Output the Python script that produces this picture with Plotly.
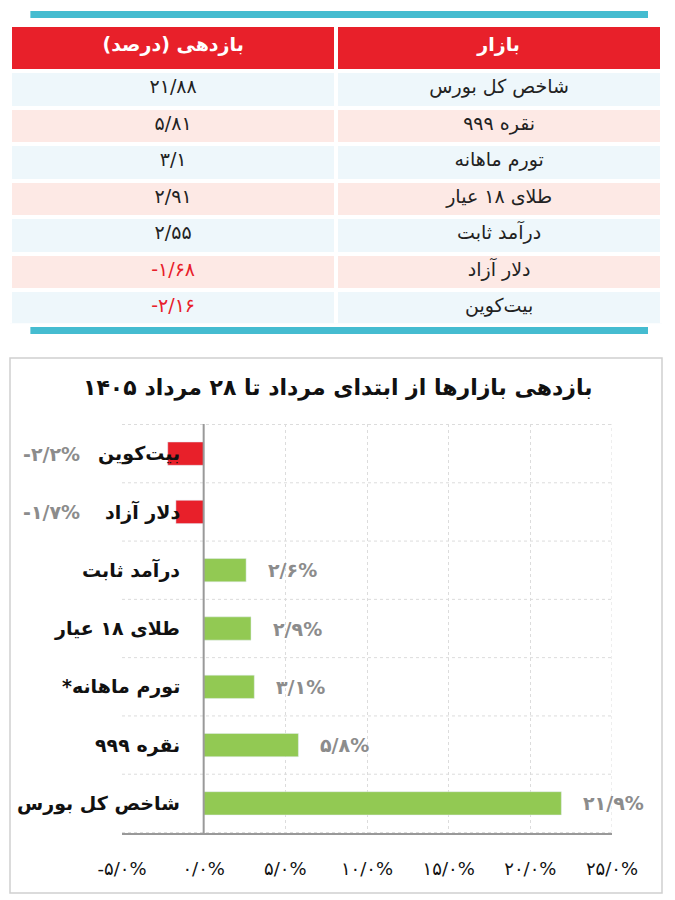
import plotly.graph_objects as go

markets = ["شاخص کل بورس", "نقره ۹۹۹", "تورم ماهانه", "طلای ۱۸ عیار", "درآمد ثابت", "دلار آزاد", "بیت‌کوین"]
table_values = ["۲۱/۸۸", "۵/۸۱", "۳/۱", "۲/۹۱", "۲/۵۵", "-۱/۶۸", "-۲/۱۶"]
chart_cats = ["بیت‌کوین", "دلار آزاد", "درآمد ثابت", "طلای ۱۸ عیار", "\u200fتورم ماهانه*\u200f", "نقره ۹۹۹", "شاخص کل بورس"]
chart_vals = [-2.2, -1.7, 2.6, 2.9, 3.1, 5.8, 21.9]
chart_labels = ["-۲/۲%", "-۱/۷%", "۲/۶%", "۲/۹%", "۳/۱%", "۵/۸%", "۲۱/۹%"]
tick_vals = [-5, 0, 5, 10, 15, 20, 25]
tick_text = ["-۵/۰%", "۰/۰%", "۵/۰%", "۱۰/۰%", "۱۵/۰%", "۲۰/۰%", "۲۵/۰%"]
title = "بازدهی بازارها از ابتدای مرداد تا ۲۸ مرداد ۱۴۰۵"

FONT = "DejaVu Sans"
RED = "#e8202a"
GREEN = "#92c953"
row_fill = ["#eef7fb" if i % 2 == 0 else "#fde9e5" for i in range(len(markets))]
val_colors = [RED if v.startswith("-") else "#222" for v in table_values]

fig = go.Figure()
fig.add_trace(go.Table(
    domain=dict(x=[0.015, 0.982], y=[0.64, 0.972]),
    columnwidth=[1, 1],
    header=dict(values=["<b>بازدهی (درصد)</b>", "<b>بازار</b>"], fill_color=RED,
                line=dict(color="white", width=4), height=46,
                font=dict(family=FONT, size=19, color="white"), align="center"),
    cells=dict(values=[table_values, markets], fill_color=[row_fill, row_fill],
               line=dict(color="white", width=4), height=36.5,
               font=dict(family=FONT, size=19, color=[val_colors, ["#222"] * 7]), align="center"),
))

fig.add_trace(go.Bar(
    x=chart_vals, y=chart_cats, orientation="h", width=0.4,
    marker_color=[RED if v < 0 else GREEN for v in chart_vals],
    hoverinfo="skip", showlegend=False,
))

for c, v, lab in zip(chart_cats, chart_vals, chart_labels):
    fig.add_annotation(x=0, y=c, text="<b>" + c + "</b>", showarrow=False, xanchor="right",
                       xshift=-22, font=dict(family=FONT, size=19, color="#111"))
    if v >= 0:
        fig.add_annotation(x=v, y=c, text="<b>" + lab + "</b>", showarrow=False, xanchor="left",
                           xshift=20, font=dict(family=FONT, size=19, color="#8c8c8c"))
    else:
        fig.add_annotation(x=-5, y=c, text="<b>" + lab + "</b>", showarrow=False, xanchor="right",
                           xshift=-40, font=dict(family=FONT, size=19, color="#8c8c8c"))

fig.add_annotation(x=0.5, y=1 - 388 / 900, xref="paper", yref="paper", text="<b>" + title + "</b>",
                   showarrow=False, font=dict(family=FONT, size=22, color="#111"))

shapes = [
    dict(type="rect", xref="paper", yref="paper", x0=0.045, x1=0.96, y0=1 - 18 / 900, y1=1 - 11 / 900,
         fillcolor="#45bcd0", line=dict(width=0)),
    dict(type="rect", xref="paper", yref="paper", x0=0.045, x1=0.96, y0=1 - 334 / 900, y1=1 - 327 / 900,
         fillcolor="#45bcd0", line=dict(width=0)),
    dict(type="rect", xref="paper", yref="paper", x0=10 / 675, x1=662 / 675, y0=1 - 893 / 900, y1=1 - 358 / 900,
         line=dict(color="#d0d0d0", width=1.5)),
    dict(type="line", xref="x", yref="paper", x0=0, x1=0, y0=1 - 833 / 900, y1=1 - 424 / 900,
         line=dict(color="#999", width=2)),
]
fig.update_layout(
    width=675, height=900, margin=dict(l=0, r=0, t=0, b=0, autoexpand=False),
    paper_bgcolor="white", plot_bgcolor="white", shapes=shapes, bargap=0.6,
    xaxis=dict(domain=[122 / 675, 612 / 675], range=[-5, 25], tickvals=tick_vals, ticktext=tick_text,
               showgrid=True, gridcolor="#dcdcdc", griddash="dot", zeroline=False, automargin=False,
               showline=True, linecolor="#999", linewidth=2, ticklabelstandoff=18,
               tickfont=dict(family=FONT, size=18, color="#111"), mirror=False),
    yaxis=dict(domain=[1 - 833 / 900, 1 - 424 / 900], autorange="reversed", showticklabels=False,
               showgrid=False, zeroline=False, showline=False, automargin=False),
)
for i in range(len(chart_cats) + 1):
    fig.add_shape(type="line", xref="x", yref="y", x0=-5, x1=25, y0=i - 0.5, y1=i - 0.5,
                  line=dict(color="#dcdcdc", width=1, dash="dot"), layer="below")
fig.add_shape(type="line", xref="x", yref="paper", x0=25, x1=25, y0=1 - 833 / 900, y1=1 - 424 / 900,
              line=dict(color="#dcdcdc", width=1, dash="dot"), layer="below")

fig.write_html("out.html", config={"displayModeBar": False},
               post_script="document.body.style.margin='0';document.body.style.overflow='hidden';document.documentElement.style.overflow='hidden';")
